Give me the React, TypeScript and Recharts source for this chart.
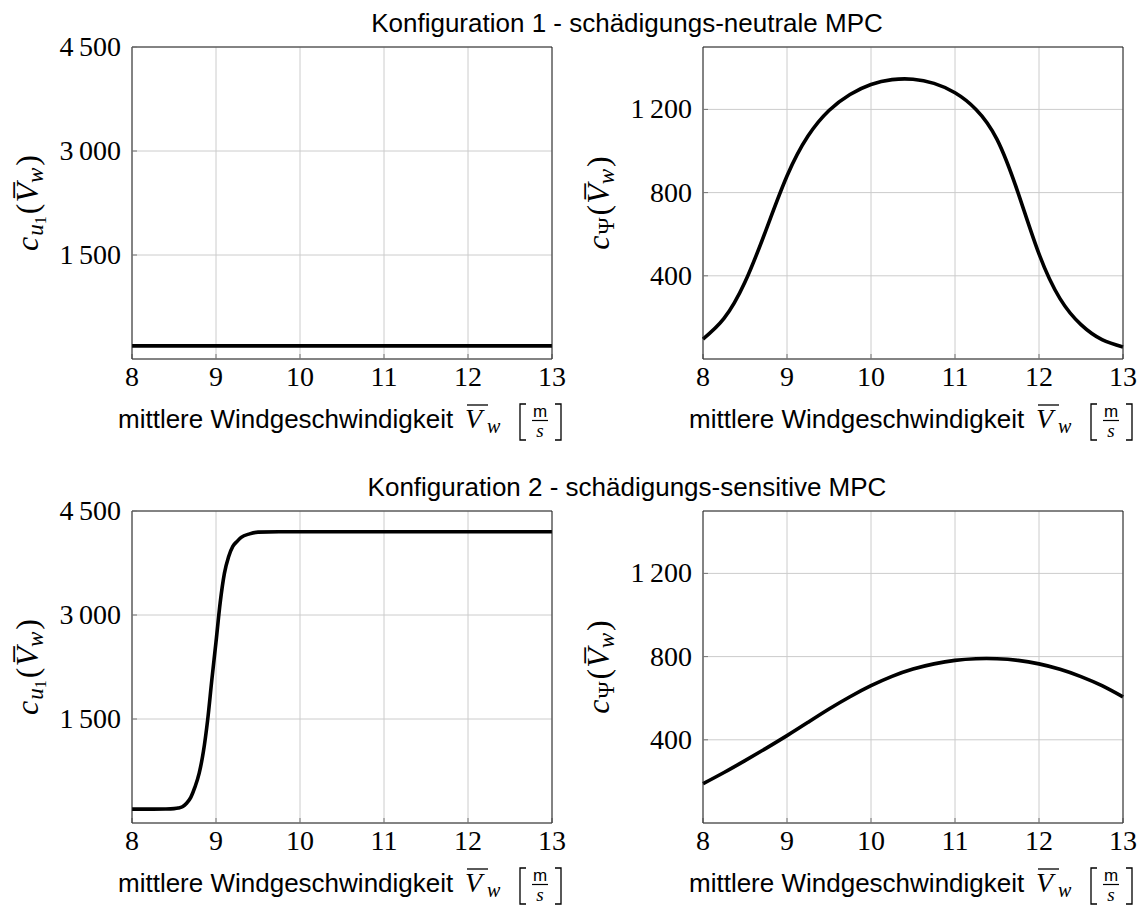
import React from 'react';
import { LineChart, Line, XAxis, YAxis, CartesianGrid } from 'recharts';

const serif = '"Liberation Serif", "DejaVu Serif", serif';
const sans = '"Liberation Sans", Arial, sans-serif';

// tick values
const xTicks = [8, 9, 10, 11, 12, 13];
const u1Ticks = [1500, 3000, 4500];
const psiTicks = [400, 800, 1200];

// Konfiguration 1 - schaedigungs-neutral
const k1U1X = [8, 9, 10, 11, 12, 13];
const k1U1Y = [190, 190, 190, 190, 190, 190];
const k1PsiX = [8, 8.25, 8.5, 8.75, 9, 9.25, 9.5, 9.75, 10, 10.25, 10.5, 10.75, 11, 11.25, 11.5, 11.75, 12, 12.25, 12.5, 12.75, 13];
const k1PsiY = [96, 195, 370, 620, 880, 1072, 1195, 1272, 1320, 1343, 1345, 1325, 1280, 1200, 1056, 800, 505, 290, 165, 93, 58];

// Konfiguration 2 - schaedigungs-sensitiv
const k2U1X = [8, 8.25, 8.4, 8.5, 8.55, 8.6, 8.65, 8.7, 8.75, 8.8, 8.85, 8.9, 8.95, 9, 9.05, 9.1, 9.15, 9.2, 9.25, 9.3, 9.4, 9.5, 9.75, 10, 11, 12, 13];
const k2U1Y = [200, 200, 202, 207, 215, 235, 285, 370, 520, 720, 1030, 1480, 2060, 2610, 3180, 3600, 3840, 3990, 4060, 4120, 4170, 4195, 4200, 4200, 4200, 4200, 4200];
const k2PsiX = [8, 8.25, 8.5, 8.75, 9, 9.25, 9.5, 9.75, 10, 10.25, 10.5, 10.75, 11, 11.25, 11.5, 11.75, 12, 12.25, 12.5, 12.75, 13];
const k2PsiY = [189, 243, 300, 359, 420, 484, 548, 607, 660, 705, 740, 765, 782, 790, 790, 782, 765, 739, 704, 660, 606];

const titles = ['Konfiguration 1 - schädigungs-neutrale MPC', 'Konfiguration 2 - schädigungs-sensitive MPC'];

const zip = (xs: number[], ys: number[]) => xs.map((x, i) => ({ x, y: ys[i] }));

const fmt = (v: number) => (v >= 1000 ? `${Math.floor(v / 1000)}\u2009${String(v % 1000).padStart(3, '0')}` : String(v));

function XTick({ x, y, payload }: any) {
  return (
    <text x={x} y={y + 19} textAnchor="middle" fontFamily={serif} fontSize={28} fill="#000">
      {payload.value}
    </text>
  );
}

function YTick({ x, y, payload }: any) {
  return (
    <text x={x} y={y + 9} textAnchor="end" fontFamily={serif} fontSize={28} fill="#000">
      {fmt(payload.value)}
    </text>
  );
}

function XLabel({ viewBox }: any) {
  const x0 = viewBox.x - 14;
  const b = viewBox.y + 69;
  return (
    <g>
      <text x={x0} y={b} fontFamily={sans} fontSize={26} fill="#000">mittlere Windgeschwindigkeit</text>
      <text x={x0 + 347} y={b} fontFamily={serif} fontStyle="italic" fontSize={28} fill="#000">V</text>
      <line x1={x0 + 349} x2={x0 + 370} y1={b - 23} y2={b - 23} stroke="#000" strokeWidth={1.3} />
      <text x={x0 + 369} y={b + 5} fontFamily={serif} fontStyle="italic" fontSize={20} fill="#000">w</text>
      <path d={`M ${x0 + 408} ${b - 24} H ${x0 + 402} V ${b + 12} H ${x0 + 408}`} stroke="#000" strokeWidth={1.3} fill="none" />
      <text x={x0 + 422} y={b - 11} textAnchor="middle" fontFamily={sans} fontSize={17} fill="#000">m</text>
      <line x1={x0 + 414} x2={x0 + 430} y1={b - 7.5} y2={b - 7.5} stroke="#000" strokeWidth={1.2} />
      <text x={x0 + 422} y={b + 9} textAnchor="middle" fontFamily={serif} fontStyle="italic" fontSize={19} fill="#000">s</text>
      <path d={`M ${x0 + 437} ${b - 24} H ${x0 + 443} V ${b + 12} H ${x0 + 437}`} stroke="#000" strokeWidth={1.3} fill="none" />
    </g>
  );
}

function YLabel({ viewBox, kind }: any) {
  const cx = viewBox.x + 38;
  const cy = viewBox.y + viewBox.height / 2;
  return (
    <text transform={`rotate(-90 ${cx} ${cy})`} x={cx} y={cy} textAnchor="middle" fontFamily={serif} fontSize={32} fill="#000">
      <tspan fontStyle="italic">c</tspan>
      {kind === 'u1' ? (
        <>
          <tspan fontStyle="italic" fontSize={23} dy={5} dx={1}>u</tspan>
          <tspan fontSize={16} dy={3}>1</tspan>
          <tspan dy={-8} dx={2}>(</tspan>
        </>
      ) : (
        <>
          <tspan fontSize={23} dy={5} dx={1}>Ψ</tspan>
          <tspan dy={-5} dx={2}>(</tspan>
        </>
      )}
      <tspan fontStyle="italic" dx={1}>{'V\u0305'}</tspan>
      <tspan fontStyle="italic" fontSize={23} dy={5}>w</tspan>
      <tspan dy={-5} dx={2}>)</tspan>
    </text>
  );
}

function Panel({ data, yMax, yTicks, kind, left, top, curve }: any) {
  return (
    <div style={{ position: 'absolute', left, top }}>
      <LineChart width={571} height={443} data={data} margin={{ top: 46, right: 18, bottom: 0, left: 0 }}>
        <CartesianGrid stroke="#cccccc" />
        <XAxis
          dataKey="x" type="number" domain={[8, 13]} ticks={xTicks} interval={0} height={84}
          tickSize={-5} tickMargin={13} tick={<XTick />}
          axisLine={{ stroke: '#222' }} tickLine={{ stroke: '#777' }}
          label={<XLabel />}
        />
        <XAxis
          xAxisId="t" orientation="top" dataKey="x" type="number" domain={[8, 13]} ticks={xTicks} interval={0} height={1}
          tickSize={-5} tick={false} axisLine={{ stroke: '#222' }} tickLine={{ stroke: '#777' }}
        />
        <YAxis
          type="number" domain={[0, yMax]} ticks={yTicks} interval={0} width={132}
          tickSize={-5} tickMargin={16} tick={<YTick />}
          axisLine={{ stroke: '#222' }} tickLine={{ stroke: '#777' }}
          label={<YLabel kind={kind} />}
        />
        <YAxis
          yAxisId="r" orientation="right" type="number" domain={[0, yMax]} ticks={yTicks} interval={0} width={1}
          tickSize={-5} tick={false} axisLine={{ stroke: '#222' }} tickLine={{ stroke: '#777' }}
        />
        <Line type={curve} dataKey="y" stroke="#000" strokeWidth={3.6} dot={false} isAnimationActive={false} />
      </LineChart>
    </div>
  );
}

export default function App() {
  return (
    <div style={{ position: 'absolute', left: 0, top: 0, width: 1142, height: 907, background: '#fff' }}>
      <Panel data={zip(k1U1X, k1U1Y)} yMax={4500} yTicks={u1Ticks} kind="u1" left={0} top={0} curve="linear" />
      <Panel data={zip(k1PsiX, k1PsiY)} yMax={1500} yTicks={psiTicks} kind="psi" left={571} top={0} curve="natural" />
      <Panel data={zip(k2U1X, k2U1Y)} yMax={4500} yTicks={u1Ticks} kind="u1" left={0} top={464} curve="monotone" />
      <Panel data={zip(k2PsiX, k2PsiY)} yMax={1500} yTicks={psiTicks} kind="psi" left={571} top={464} curve="natural" />
      <svg width={1142} height={907} style={{ position: 'absolute', left: 0, top: 0, pointerEvents: 'none' }}>
        <text x={627} y={32} textAnchor="middle" fontFamily={sans} fontSize={26} fill="#000">{titles[0]}</text>
        <text x={627} y={496} textAnchor="middle" fontFamily={sans} fontSize={26} fill="#000">{titles[1]}</text>
      </svg>
    </div>
  );
}
